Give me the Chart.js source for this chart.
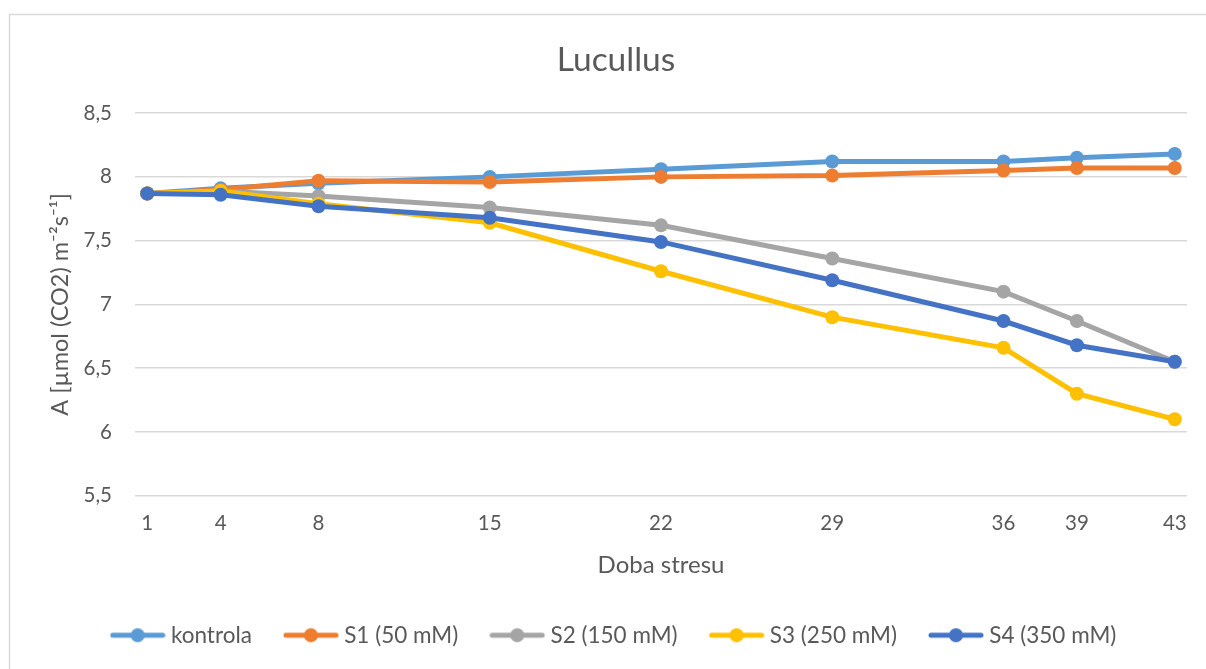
<!DOCTYPE html>
<html lang="cs">
<head>
<meta charset="utf-8">
<title>Lucullus</title>
<script src="https://cdn.jsdelivr.net/npm/chart.js@4.4.1/dist/chart.umd.min.js"></script>
<style>
  html, body { margin: 0; padding: 0; background: #ffffff; overflow: hidden; }
  #wrap { width: 1206px; height: 669px; position: relative; }
</style>
</head>
<body>
<div id="wrap"><canvas id="chart" width="1206" height="669"></canvas></div>
<script>
// Days of stress (x values) and net photosynthesis per treatment
const days = [1, 4, 8, 15, 22, 29, 36, 39, 43];
const kontrola = [7.87, 7.91, 7.95, 8.00, 8.06, 8.12, 8.12, 8.15, 8.18];
const s1 = [7.87, 7.90, 7.97, 7.96, 8.00, 8.01, 8.05, 8.07, 8.07];
const s2 = [7.87, 7.89, 7.85, 7.76, 7.62, 7.36, 7.10, 6.87, 6.55];
const s3 = [7.87, 7.89, 7.79, 7.64, 7.26, 6.90, 6.66, 6.30, 6.10];
const s4 = [7.87, 7.86, 7.77, 7.68, 7.49, 7.19, 6.87, 6.68, 6.55];

const seriesNames = ['kontrola', 'S1 (50 mM)', 'S2 (150 mM)', 'S3 (250 mM)', 'S4 (350 mM)'];
const seriesValues = [kontrola, s1, s2, s3, s4];
const seriesColors = ['#5B9BD5', '#ED7D31', '#A5A5A5', '#FFC000', '#4472C4'];

const FONT = "Lato, 'Open Sans', 'DejaVu Sans', sans-serif";
const TEXT = '#595959';

// Legend marker: short line with a dot in the middle
function legendMarker(color) {
  const c = document.createElement('canvas');
  c.width = 56; c.height = 16;
  const g = c.getContext('2d');
  g.strokeStyle = color; g.lineWidth = 5; g.lineCap = 'round';
  g.beginPath(); g.moveTo(3, 8); g.lineTo(53, 8); g.stroke();
  g.fillStyle = color;
  g.beginPath(); g.arc(28, 8, 7, 0, Math.PI * 2); g.fill();
  return c;
}

const datasets = seriesNames.map((name, i) => ({
  label: name,
  data: days.map((d, k) => ({ x: d, y: seriesValues[i][k] })),
  borderColor: seriesColors[i],
  backgroundColor: seriesColors[i],
  borderWidth: 5,
  pointRadius: 7,
  pointHoverRadius: 7,
  pointBorderWidth: 0,
  tension: 0,
  order: seriesNames.length - i   // later series painted on top
}));

// Light frame around the chart
const framePlugin = {
  id: 'frame',
  beforeDraw(chart) {
    const ctx = chart.ctx;
    ctx.save();
    ctx.strokeStyle = '#d9d9d9';
    ctx.lineWidth = 1.5;
    ctx.beginPath();
    ctx.moveTo(9.5, 669);
    ctx.lineTo(9.5, 14.5);
    ctx.lineTo(1206, 14.5);
    ctx.stroke();
    ctx.restore();
  }
};

new Chart(document.getElementById('chart'), {
  type: 'line',
  data: { datasets },
  plugins: [framePlugin],
  options: {
    responsive: false,
    animation: false,
    layout: { padding: { top: 10, left: 45, right: 19, bottom: 12.5 } },
    plugins: {
      title: {
        display: true,
        text: 'Lucullus',
        color: TEXT,
        font: { family: FONT, size: 33.5, weight: 'normal' },
        padding: { top: 29.9, bottom: 33 }
      },
      legend: {
        position: 'bottom',
        labels: {
          color: TEXT,
          font: { family: FONT, size: 22.5 },
          usePointStyle: true,
          pointStyleWidth: 44,
          padding: 37,
          generateLabels(chart) {
            return chart.data.datasets.map((ds, i) => ({
              text: ds.label,
              fillStyle: ds.borderColor,
              strokeStyle: ds.borderColor,
              lineWidth: 0,
              pointStyle: legendMarker(ds.borderColor),
              fontColor: TEXT,
              hidden: false,
              datasetIndex: i
            }));
          }
        }
      },
      tooltip: { enabled: false }
    },
    scales: {
      x: {
        type: 'linear',
        min: 0.5,
        max: 43.5,
        afterBuildTicks(scale) { scale.ticks = days.map(v => ({ value: v })); },
        afterFit(scale) { scale.height = 91.25; },
        grid: { display: false, drawTicks: false },
        border: { display: false },
        ticks: {
          color: TEXT,
          font: { family: FONT, size: 20.5 },
          padding: 15.7,
          maxRotation: 0,
          autoSkip: false
        },
        title: {
          display: true,
          text: 'Doba stresu',
          color: TEXT,
          font: { family: FONT, size: 24 },
          padding: { top: 0, bottom: 6.85 }
        }
      },
      y: {
        min: 5.5,
        max: 8.5,
        afterFit(scale) { scale.width = 90; },
        grid: { color: '#d9d9d9', lineWidth: 1.5, drawTicks: false },
        border: { display: false },
        ticks: {
          stepSize: 0.5,
          color: TEXT,
          font: { family: FONT, size: 20.5 },
          padding: 23,
          callback: v => String(v).replace('.', ',')
        },
        title: {
          display: true,
          text: 'A [µmol (CO2) m⁻²s⁻¹]',
          color: TEXT,
          font: { family: FONT, size: 23.5 },
          padding: { top: 0.9, bottom: 0 }
        }
      }
    }
  }
});
</script>
</body>
</html>
